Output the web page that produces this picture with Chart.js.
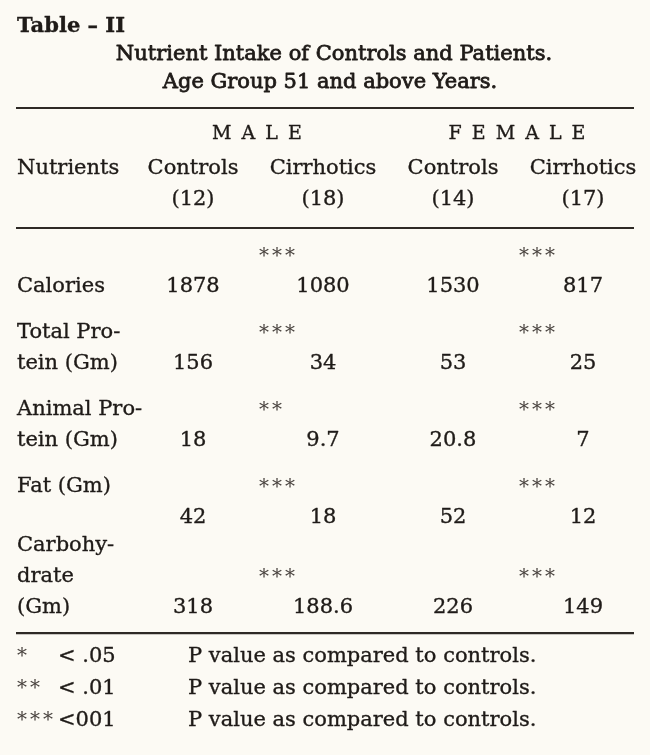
<!DOCTYPE html>
<html>
<head>
<meta charset="utf-8">
<script src="https://cdn.jsdelivr.net/npm/chart.js@4.4.1/dist/chart.umd.min.js"></script>
<style>
  html, body { margin: 0; padding: 0; background: #fcfaf4; }
  #wrap { width: 650px; height: 755px; position: relative; }
  canvas { display: block; }
</style>
</head>
<body>
<div id="wrap"><canvas id="c" width="650" height="755"></canvas></div>
<script>
// ---------------- data ----------------
const tableNumber = 'Table – II';
const titleLines = ['Nutrient Intake of Controls and Patients.', 'Age Group 51 and above Years.'];
const groups = ['M A L E', 'F E M A L E'];
const rowHeader = 'Nutrients';
const columnHeaders = ['Controls', 'Cirrhotics', 'Controls', 'Cirrhotics'];
const sampleSizes = ['(12)', '(18)', '(14)', '(17)'];
const nutrients = [
  ['Calories'],
  ['Total Pro-', 'tein (Gm)'],
  ['Animal Pro-', 'tein (Gm)'],
  ['Fat (Gm)', ''],
  ['Carbohy-', 'drate', '(Gm)']
];
const maleControls     = [1878, 156, 18, 42, 318];
const maleCirrhotics   = [1080, 34, 9.7, 18, 188.6];
const femaleControls   = [1530, 53, 20.8, 52, 226];
const femaleCirrhotics = [817, 25, 7, 12, 149];
const maleSignificance   = ['***', '***', '**', '***', '***'];
const femaleSignificance = ['***', '***', '***', '***', '***'];
const footnoteMarks  = ['*', '**', '***'];
const footnoteLimits = ['< .05', '< .01', '<001'];
const footnoteText   = 'P value as compared to controls.';

// ---------------- style ----------------
const BG = '#fcfaf4';
const INK = '#1f1b18';
const STAR_INK = '#4a4440';
const RULE = '#2e2925';
const FONT = '"DejaVu Serif", "Liberation Serif", serif';
const LINE = 31;          // line step inside a row block
const LEFT = 17;          // left margin of the table
const RIGHT = 634;

// a row whose label needs extra lines is pushed down a little
function rowPos(i) { return i + 0.17 * Math.max(0, nutrients[i].length - 2); }

const valueColumns = [maleControls, maleCirrhotics, femaleControls, femaleCirrhotics];
const datasets = valueColumns.map((vals, c) => ({
  label: columnHeaders[c] + ' ' + sampleSizes[c],
  kind: 'value',
  data: vals.map((v, i) => ({ x: c + 1, y: rowPos(i), text: String(v) }))
}));
datasets.push({
  label: 'Male significance', kind: 'sig',
  data: maleSignificance.map((s, i) => ({ x: 1.5, y: rowPos(i), text: s }))
});
datasets.push({
  label: 'Female significance', kind: 'sig',
  data: femaleSignificance.map((s, i) => ({ x: 3.5, y: rowPos(i), text: s }))
});

function setSpacing(ctx, v) { if ('letterSpacing' in ctx) ctx.letterSpacing = v; }
function ink(ctx, t, x, y) {
  ctx.fillText(t, x, y);
  ctx.strokeText(t, x, y);
}

const tablePlugin = {
  id: 'tableText',
  beforeDraw(chart) {
    const ctx = chart.ctx;
    ctx.save();
    ctx.fillStyle = BG;
    ctx.fillRect(0, 0, chart.width, chart.height);
    ctx.restore();
  },
  afterDatasetsDraw(chart) {
    const ctx = chart.ctx;
    const xs = chart.scales.x, ys = chart.scales.y;
    ctx.save();
    ctx.fillStyle = INK;
    ctx.strokeStyle = INK;
    ctx.lineWidth = 0.35;
    ctx.lineJoin = 'round';
    ctx.textBaseline = 'alphabetic';

    // caption
    ctx.font = 'bold 21px ' + FONT;
    ctx.textAlign = 'left';
    ink(ctx, tableNumber, LEFT, 32);
    ctx.save();
    ctx.lineWidth = 0.8;
    ctx.font = '21px ' + FONT;
    ctx.textAlign = 'center';
    ink(ctx, titleLines[0], 334, 60);
    ink(ctx, titleLines[1], 330, 88);
    ctx.restore();

    // rules
    ctx.save();
    ctx.strokeStyle = RULE;
    ctx.lineWidth = 2.2;
    const lastBase = ys.getPixelForValue(rowPos(nutrients.length - 1));
    [108, 228, lastBase + 20].forEach(y => {
      ctx.beginPath(); ctx.moveTo(LEFT - 1, y); ctx.lineTo(RIGHT, y); ctx.stroke();
    });
    ctx.restore();

    // group headings
    ctx.font = '19px ' + FONT;
    setSpacing(ctx, '2px');
    ctx.textAlign = 'center';
    ink(ctx, groups[0], xs.getPixelForValue(1.5), 139);
    ink(ctx, groups[1], xs.getPixelForValue(3.5), 139);
    setSpacing(ctx, '0px');

    // column headings
    ctx.font = '21px ' + FONT;
    ctx.textAlign = 'left';
    ink(ctx, rowHeader, LEFT, 174);
    ctx.textAlign = 'center';
    columnHeaders.forEach((h, c) => ink(ctx, h, xs.getPixelForValue(c + 1), 174));
    sampleSizes.forEach((s, c) => ink(ctx, s, xs.getPixelForValue(c + 1), 205));

    // row labels
    ctx.textAlign = 'left';
    nutrients.forEach((lines, i) => {
      const base = ys.getPixelForValue(rowPos(i));
      lines.forEach((t, k) => {
        if (t) ink(ctx, t, LEFT, base - (lines.length - 1 - k) * LINE);
      });
    });

    // cells
    chart.data.datasets.forEach((ds, d) => {
      const meta = chart.getDatasetMeta(d);
      meta.data.forEach((el, i) => {
        const item = ds.data[i];
        if (ds.kind === 'value') {
          ctx.font = '21px ' + FONT;
          ctx.textAlign = 'center';
          ink(ctx, item.text, el.x, el.y);
        } else {
          ctx.save();
          ctx.fillStyle = STAR_INK;
          ctx.font = '20px ' + FONT;
          setSpacing(ctx, '3px');
          ctx.textAlign = 'left';
          ctx.fillText(item.text, el.x + 1, el.y - LINE + 1);
          ctx.restore();
          setSpacing(ctx, '0px');
        }
      });
    });

    // footnotes
    const footBase = [662, 694, 726];
    footnoteMarks.forEach((m, k) => {
      const y = footBase[k];
      ctx.textAlign = 'left';
      ctx.save();
      ctx.fillStyle = STAR_INK;
      ctx.font = '20px ' + FONT;
      setSpacing(ctx, '3px');
      ctx.fillText(m, LEFT, y);
      const mw = ctx.measureText(m).width;
      ctx.restore();
      setSpacing(ctx, '0px');
      ctx.font = '21px ' + FONT;
      ink(ctx, footnoteLimits[k], Math.max(58, LEFT + mw), y);
      ink(ctx, footnoteText, 188, y);
    });

    ctx.restore();
  }
};

new Chart(document.getElementById('c'), {
  type: 'scatter',
  data: { datasets },
  options: {
    responsive: false,
    animation: false,
    devicePixelRatio: 1,
    layout: { padding: 0 },
    plugins: { legend: { display: false }, tooltip: { enabled: false } },
    elements: { point: { radius: 0, hoverRadius: 0, hitRadius: 0 } },
    scales: {
      x: { type: 'linear', display: false, min: -0.4846, max: 4.5154 },
      y: { type: 'linear', display: false, reverse: true, min: -3.792, max: 6.013 }
    }
  },
  plugins: [tablePlugin]
});
</script>
</body>
</html>
